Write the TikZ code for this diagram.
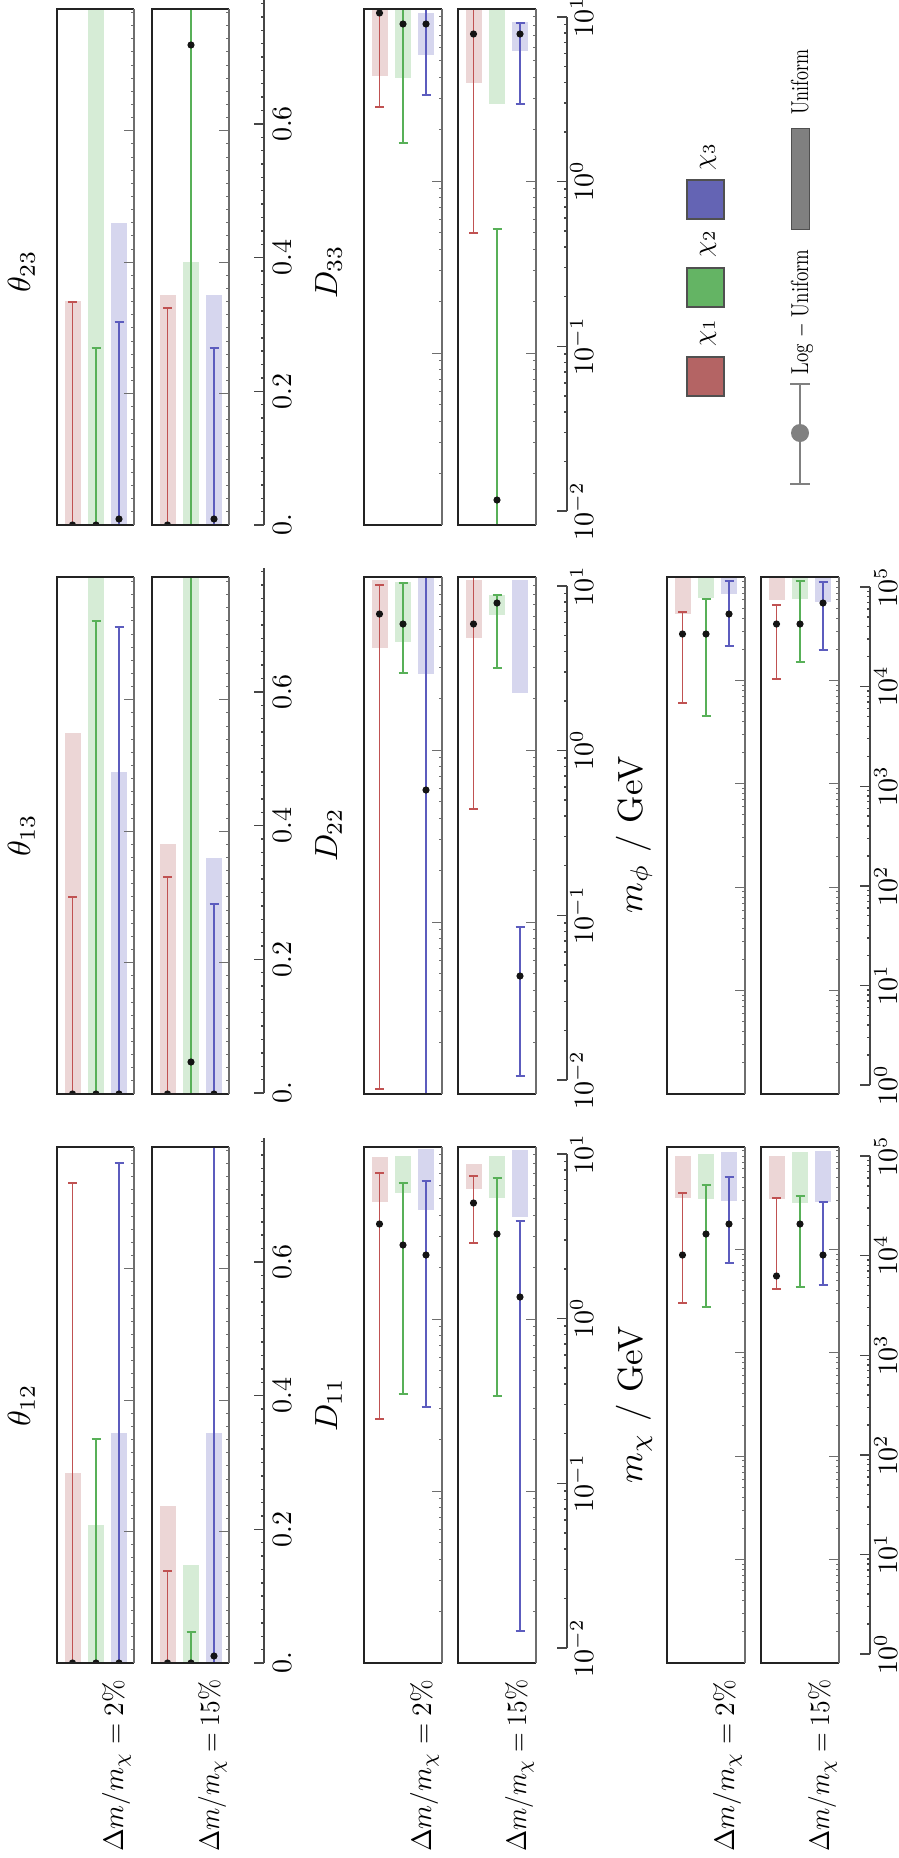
\documentclass[tikz,border=0pt]{standalone}
\usepackage{graphicx}
\definecolor{rl}{RGB}{192,82,82}
\definecolor{gl}{RGB}{88,176,88}
\definecolor{bl}{RGB}{92,92,190}
\definecolor{rf}{RGB}{236,214,214}
\definecolor{gf}{RGB}{214,236,214}
\definecolor{bf}{RGB}{214,214,238}
\definecolor{rs}{RGB}{180,100,100}
\definecolor{gs}{RGB}{100,180,100}
\definecolor{bs}{RGB}{100,100,180}
\definecolor{dotc}{RGB}{20,20,20}
\definecolor{tkc}{RGB}{110,110,110}
\definecolor{axc}{RGB}{70,70,70}
\definecolor{frc}{RGB}{35,35,35}
\definecolor{legc}{RGB}{128,128,128}
\definecolor{legd}{RGB}{80,80,80}
\tikzset{
 eb/.style={line width=1.2pt},
 tk/.style={draw=tkc,line width=1pt},
 ax/.style={draw=axc,line width=1.6pt},
 axt/.style={draw=axc,line width=1.4pt},
 frm/.style={draw=frc,line width=1.3pt},
 frr/.style={draw=tkc,line width=1.3pt},
 lab/.style={rotate=90,inner sep=0pt,font=\normalsize,scale=2.8},
 biglab/.style={rotate=90,inner sep=0pt,font=\normalsize,scale=3.2},
 masslab/.style={rotate=90,inner sep=0pt,font=\normalsize,scale=3.5},
 leglab/.style={rotate=90,inner sep=0pt,font=\normalsize,scale=2.45},
}
% series: x, colour prefix, bar top, bar bottom, err top, err bottom, dot
\newcommand\ser[7]{%
 \fill[#2f] (#1-8,#3) rectangle (#1+8,#4);
 \draw[#2l,eb] (#1,#5) -- (#1,#6) (#1-4.5,#5) -- (#1+4.5,#5) (#1-4.5,#6) -- (#1+4.5,#6);
 \fill[dotc] (#1,#7) circle[radius=3.6];}
\newcommand\sR[5]{\ser{\pL+15.5}{r}{#1}{#2}{#3}{#4}{#5}}
\newcommand\sG[5]{\ser{\pL+39}{g}{#1}{#2}{#3}{#4}{#5}}
\newcommand\sB[5]{\ser{\pL+62}{b}{#1}{#2}{#3}{#4}{#5}}
% panel: L, T, B, W, body
\newcommand\pnl[5]{%
 \def\pL{#1}%
 \begin{scope}\clip (#1,#2) rectangle (#1+#4,#3); #5 \end{scope}
 \draw[frm] (#1+#4,#2) -- (#1,#2) -- (#1,#3) -- (#1+#4,#3);
 \draw[frr] (#1+#4,#2) -- (#1+#4,#3);}
% inner ticks
\newcommand\tlin[2]{%
 \foreach \k in {1,...,39} \draw[tk] (#1,#2-\k*13.14) -- ++(-3,0);
 \foreach \k in {1,2,3} \draw[tk] (#1,#2-\k*131.4) -- ++(-10,0);}
\newcommand\tlog[4]{%
 \foreach \e in {0,...,#4} \foreach \l in {0.30103,0.47712,0.60206,0.69897,0.77815,0.84510,0.90309,0.95424} \draw[tk] (#1,#2-\e*#3-\l*#3) -- ++(-3,0);
 \foreach \e in {1,...,#4} \draw[tk] (#1,#2-\e*#3) -- ++(-10,0);}
% outer axes
\newcommand\linaxis[1]{%
 \draw[ax] (264,#1) -- (264,#1-525);
 \foreach \k in {1,...,39} \draw[axt] (264,#1-\k*13.37) -- ++(-3,0);
 \foreach \k/\t in {0/0.,1/0.2,2/0.4,3/0.6} {\draw[axt] (264,#1-\k*133.7) -- ++(-10,0); \node[lab,anchor=base] at (291,#1-\k*133.7) {\t};}}
\newcommand\daxis[1]{%
 \draw[ax] (567,#1) -- (567,#1-494);
 \foreach \e in {0,1,2} \foreach \l in {0.30103,0.47712,0.60206,0.69897,0.77815,0.84510,0.90309,0.95424} \draw[axt] (567,#1-\e*164.7-\l*164.7) -- ++(-3,0);
 \foreach \e/\t in {0/-2,1/-1,2/0,3/1} {\draw[axt] (567,#1-\e*164.7) -- ++(-10,0); \node[lab,anchor=base] at (593,#1-\e*164.7) {$10^{\t}$};}}
\newcommand\maxis[1]{%
 \draw[ax] (870,#1) -- (870,#1-498);
 \foreach \e in {0,...,4} \foreach \l in {0.30103,0.47712,0.60206,0.69897,0.77815,0.84510,0.90309,0.95424} \draw[axt] (870,#1-\e*99.6-\l*99.6) -- ++(-3,0);
 \foreach \e in {0,...,5} {\draw[axt] (870,#1-\e*99.6) -- ++(-10,0); \node[lab,anchor=base] at (897,#1-\e*99.6) {$10^{\e}$};}}
\newcommand\rowtext[1]{\resizebox{61.5pt}{\height}{$\Delta m/m_\chi = #1\%$}}
\begin{document}
\begin{tikzpicture}[x=1pt,y=-1pt]
\useasboundingbox (0,0) rectangle (899,1858);
% ===== theta panels =====
\pnl{57}{9}{525}{77}{\sR{301}{525}{302}{525}{525}\sG{0}{525}{348}{525}{525}\sB{223}{525}{322}{525}{519}}
\tlin{134}{525}
\pnl{152}{9}{525}{77}{\sR{295}{525}{308}{525}{525}\sG{262}{525}{9}{525}{45}\sB{295}{525}{348}{525}{519}}
\tlin{229}{525}
\pnl{57}{577}{1094}{77}{\sR{733}{1094}{897}{1094}{1094}\sG{570}{1094}{621}{1094}{1094}\sB{772}{1094}{627}{1094}{1094}}
\tlin{134}{1094}
\pnl{152}{577}{1094}{77}{\sR{844}{1094}{877}{1094}{1094}\sG{570}{1094}{577}{1094}{1062}\sB{858}{1094}{904}{1094}{1094}}
\tlin{229}{1094}
\pnl{57}{1147}{1663}{77}{\sR{1473}{1663}{1183}{1663}{1663}\sG{1525}{1663}{1439}{1663}{1663}\sB{1433}{1663}{1163}{1663}{1663}}
\tlin{134}{1663}
\pnl{152}{1147}{1663}{77}{\sR{1506}{1663}{1571}{1663}{1663}\sG{1565}{1663}{1632}{1663}{1663}\sB{1433}{1663}{1130}{1663}{1656}}
\tlin{229}{1663}
% ===== D panels =====
\pnl{364}{9}{525}{78}{\sR{0}{76}{9}{107}{13}\sG{0}{78}{9}{143}{24}\sB{13}{55}{9}{95}{24}}
\tlog{442}{525}{172}{2}
\pnl{458}{9}{525}{78}{\sR{0}{83}{9}{233}{34}\sG{0}{104}{229}{525}{500}\sB{22}{51}{23}{104}{34}}
\tlog{536}{525}{172}{2}
\pnl{364}{577}{1094}{78}{\sR{580}{648}{585}{1089}{614}\sG{582}{642}{583}{673}{624}\sB{570}{674}{577}{1094}{790}}
\tlog{442}{1094}{172}{2}
\pnl{458}{577}{1094}{78}{\sR{580}{638}{577}{809}{624}\sG{595}{615}{595}{668}{603}\sB{580}{693}{927}{1076}{976}}
\tlog{536}{1094}{172}{2}
\pnl{364}{1147}{1663}{78}{\sR{1157}{1202}{1173}{1419}{1224}\sG{1156}{1193}{1183}{1394}{1245}\sB{1149}{1210}{1181}{1407}{1255}}
\tlog{442}{1663}{172}{2}
\pnl{458}{1147}{1663}{78}{\sR{1164}{1189}{1176}{1243}{1203}\sG{1156}{1198}{1178}{1396}{1234}\sB{1150}{1217}{1221}{1631}{1297}}
\tlog{536}{1663}{172}{2}
% ===== mass panels =====
\pnl{667}{577}{1094}{78}{\sR{578}{614}{612}{703}{634}\sG{578}{598}{599}{716}{634}\sB{578}{594}{581}{646}{614}}
\tlog{745}{1094}{103.4}{4}
\pnl{761}{577}{1094}{78}{\sR{578}{600}{605}{679}{624}\sG{578}{599}{581}{662}{624}\sB{578}{602}{582}{650}{603}}
\tlog{839}{1094}{103.4}{4}
\pnl{667}{1147}{1663}{78}{\sR{1156}{1198}{1193}{1303}{1255}\sG{1154}{1199}{1185}{1307}{1234}\sB{1152}{1201}{1177}{1263}{1224}}
\tlog{745}{1663}{103.4}{4}
\pnl{761}{1147}{1663}{78}{\sR{1156}{1199}{1198}{1289}{1276}\sG{1152}{1203}{1196}{1287}{1224}\sB{1151}{1202}{1202}{1285}{1255}}
\tlog{839}{1663}{103.4}{4}
% ===== outer axes =====
\linaxis{525}
\linaxis{1093}
\linaxis{1663}
\daxis{511}
\daxis{1080}
\daxis{1648}
\maxis{1085}
\maxis{1654}
% ===== titles =====
\node[biglab,anchor=base] (t23) at (30,271) {$\theta_{23}$};
\node[biglab,anchor=base] (t13) at (30,835) {$\theta_{13}$};
\node[biglab,anchor=base] (t12) at (30,1405) {$\theta_{12}$};
\node[biglab,anchor=base] (d33) at (337,272) {$D_{33}$};
\node[biglab,anchor=base] (d22) at (337,835) {$D_{22}$};
\node[biglab,anchor=base] (d11) at (337,1405) {$D_{11}$};
\node[masslab,anchor=base] (mphi) at (642,835) {$m_\phi$ / GeV};
\node[masslab,anchor=base] (mchi) at (642,1405) {$m_\chi$ / GeV};
% ===== row labels =====
\node[lab,anchor=base east] (r1) at (123,1679) {\rowtext{2}};
\node[lab,anchor=base east] (r2) at (219,1679) {\rowtext{15}};
\node[lab,anchor=base east] (r3) at (431,1679) {\rowtext{2}};
\node[lab,anchor=base east] (r4) at (526,1679) {\rowtext{15}};
\node[lab,anchor=base east] (r5) at (734,1679) {\rowtext{2}};
\node[lab,anchor=base east] (r6) at (829,1679) {\rowtext{15}};
% ===== legend =====
\draw[line width=2.5pt,draw=legd,fill=rs] (687,357) rectangle (724,396);
\draw[line width=2.5pt,draw=legd,fill=gs] (687,268) rectangle (724,307);
\draw[line width=2.5pt,draw=legd,fill=bs] (687,180) rectangle (724,219);
\node[leglab,scale=1.05,anchor=base west] (l1) at (711,347) {$\chi_1$};
\node[leglab,scale=1.05,anchor=base west] (l2) at (711,258) {$\chi_2$};
\node[leglab,scale=1.05,anchor=base west] (l3) at (711,171) {$\chi_3$};
\draw[draw=legc,line width=1.6pt] (800,384) -- (800,484) (790,384) -- (810,384) (790,484) -- (810,484);
\fill[legc] (800,433) circle[radius=9];
\node[leglab,anchor=base west] (lu) at (808,375) {\resizebox{51pt}{\height}{Log $-$ Uniform}};
\fill[legc,draw=legd,line width=1pt] (791,128) rectangle (809,229);
\node[leglab,anchor=base west] (un) at (808,115) {\resizebox{26.5pt}{\height}{Uniform}};
\end{tikzpicture}
\end{document}
